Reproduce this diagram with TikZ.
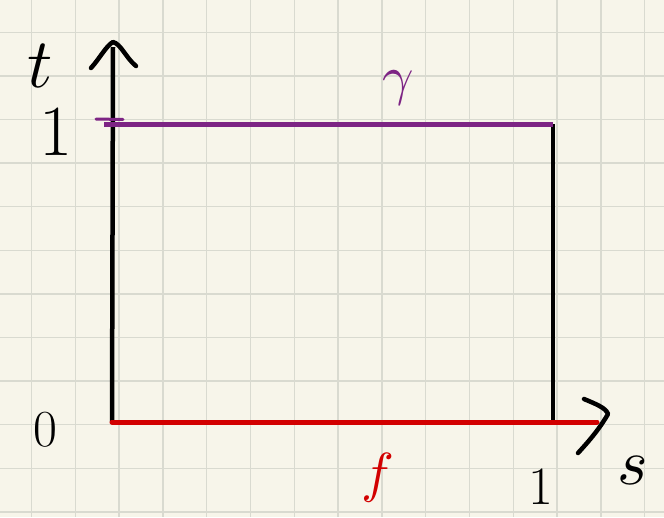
\documentclass[tikz,border=0pt]{standalone}
\usepackage{graphicx}
\definecolor{paper}{HTML}{F7F5EA}
\definecolor{gridc}{HTML}{D9DAD0}
\definecolor{pur}{HTML}{7D2484}
\definecolor{redc}{HTML}{D20000}
\tikzset{
  ax/.style={line width=4.5pt, black},
  caret/.style={line width=4.5pt, line cap=round, line join=round, black},
  lab/.style={inner sep=0pt, anchor=center},
}
\begin{document}
\begin{tikzpicture}[x=1pt,y=-1pt]
\fill[paper] (0,0) rectangle (664,517);
\useasboundingbox (0,0) rectangle (664,517);
\begin{scope}
\clip (0,0) rectangle (664,517);
\foreach \i in {0,...,14} \draw[gridc, line width=1.4pt] ({31.5+43.8*\i},0) -- ({31.5+43.8*\i},517);
\foreach \j in {-1,...,11} \draw[gridc, line width=1.4pt] (0,{32.3+43.6*\j}) -- (664,{32.3+43.6*\j});
\end{scope}
% corners
\coordinate (O) at (112,422);
\coordinate (A) at (553,422);
\coordinate (B) at (553,124);
\coordinate (C) at (112,124);
\coordinate (Ttop) at (113,47);
\coordinate (Send) at (597,422);
% axes
\draw[ax] (O) -- (Ttop);
\draw[ax] (A) -- (B);
\draw[line width=5pt, pur] (104,124) -- (B);
\draw[line width=3pt, pur, line cap=round] (96,119) -- (123,119.5);
\draw[line width=5pt, redc, line cap=round] (O) -- (Send);
% carets
\draw[caret] (91,68) .. controls (100,58) and (106,46) .. (113,42) .. controls (121,44) and (126,58) .. (136,66);
\draw[caret] (584,399) .. controls (596,404) and (606,408) .. (608,414) .. controls (600,428) and (590,440) .. (578,453);
% labels
\node[lab] (tl) at (40,66) {\scalebox{7}{$t$}};
\node[lab] (one) at (56,132) {\fontsize{72}{72}\selectfont 1};
\node[lab] (zero) at (45,430) {\fontsize{52}{52}\selectfont 0};
\node[lab, pur] (gam) at (398,88) {\scalebox{5.5}{$\gamma$}};
\node[lab, redc] (f) at (378,478) {\scalebox{5.5}{$f$}};
\node[lab] (one2) at (541,487) {\fontsize{54}{54}\selectfont 1};
\node[lab] (s) at (633,470) {\scalebox{6.5}{$s$}};
\end{tikzpicture}
\end{document}
